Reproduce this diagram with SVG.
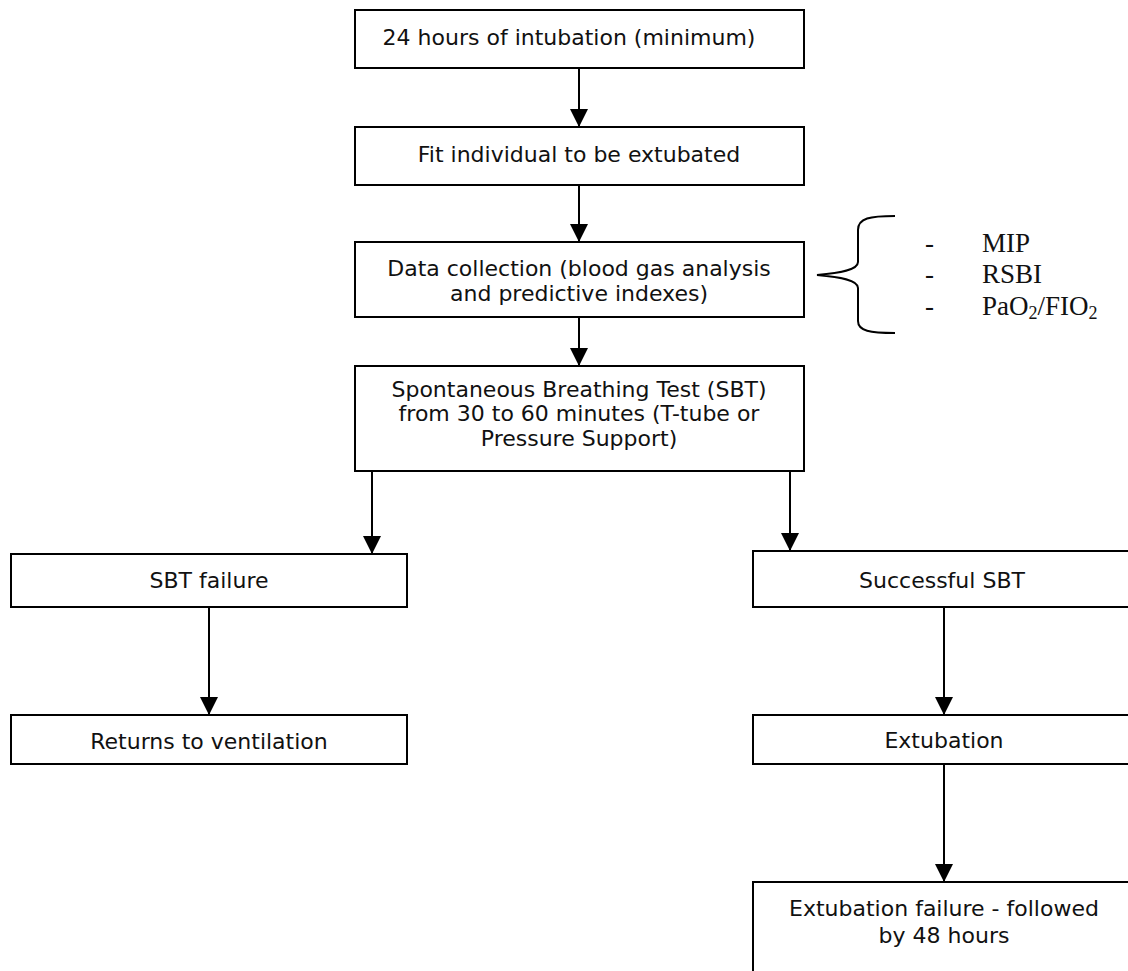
<svg xmlns="http://www.w3.org/2000/svg" width="1128" height="971" viewBox="0 0 1128 971">
<defs>
<marker id="ah" markerWidth="18" markerHeight="18" refX="18" refY="9" orient="auto" markerUnits="userSpaceOnUse">
<path d="M0,0 L18,9 L0,18 Z" fill="#000"/>
</marker>
<style>
.box{fill:#fff;stroke:#000;stroke-width:2}
.t{font-family:"DejaVu Sans","Verdana",sans-serif;font-size:22px;fill:#111;text-anchor:middle}
.s{font-family:"Liberation Serif","Times New Roman",serif;font-size:27px;fill:#111}
.c{stroke:#000;stroke-width:2;fill:none}
</style>
</defs>
<rect width="1128" height="971" fill="#fff"/>
<g id="n1"><rect class="box" x="355" y="10" width="449" height="58"/><text class="t" x="569" y="45">24 hours of intubation (minimum)</text></g>
<g id="n2"><rect class="box" x="355" y="127" width="449" height="58"/><text class="t" x="579" y="162">Fit individual to be extubated</text></g>
<g id="n3"><rect class="box" x="355" y="242" width="449" height="75"/><text class="t" x="579" y="276">Data collection (blood gas analysis</text><text class="t" x="579" y="301">and predictive indexes)</text></g>
<g id="n4"><rect class="box" x="355" y="366" width="449" height="105"/><text class="t" x="579" y="397">Spontaneous Breathing Test (SBT)</text><text class="t" x="579" y="421">from 30 to 60 minutes (T-tube or</text><text class="t" x="579" y="446">Pressure Support)</text></g>
<g id="n5"><rect class="box" x="11" y="554" width="396" height="53"/><text class="t" x="209" y="588">SBT failure</text></g>
<g id="n6"><rect class="box" x="753" y="551" width="390" height="56"/><text class="t" x="942" y="588">Successful SBT</text></g>
<g id="n7"><rect class="box" x="11" y="715" width="396" height="49"/><text class="t" x="209" y="749">Returns to ventilation</text></g>
<g id="n8"><rect class="box" x="753" y="715" width="390" height="49"/><text class="t" x="944" y="748">Extubation</text></g>
<g id="n9"><rect class="box" x="753" y="882" width="390" height="110"/><text class="t" x="944" y="916">Extubation failure - followed</text><text class="t" x="944" y="943">by 48 hours</text></g>
<g id="note">
<path class="c" d="M895,216 C870,216 858,218 858,230 L858,262 C858,270 840,273 817,275 C840,277 858,280 858,288 L858,321 C858,331 870,333 895,333"/>
<text class="s" x="925" y="252">-</text><text class="s" x="982" y="252">MIP</text>
<text class="s" x="925" y="283">-</text><text class="s" x="982" y="283">RSBI</text>
<text class="s" x="925" y="315">-</text><text class="s" x="982" y="315">PaO<tspan font-size="18" dy="4">2</tspan><tspan dy="-4">/FIO</tspan><tspan font-size="18" dy="4">2</tspan></text>
</g>
<g id="connectors">
<line class="c" x1="579" y1="68" x2="579" y2="127" marker-end="url(#ah)"/>
<line class="c" x1="579" y1="185" x2="579" y2="242" marker-end="url(#ah)"/>
<line class="c" x1="579" y1="317" x2="579" y2="366" marker-end="url(#ah)"/>
<line class="c" x1="372" y1="471" x2="372" y2="554" marker-end="url(#ah)"/>
<line class="c" x1="790" y1="471" x2="790" y2="551" marker-end="url(#ah)"/>
<line class="c" x1="209" y1="607" x2="209" y2="715" marker-end="url(#ah)"/>
<line class="c" x1="944" y1="607" x2="944" y2="715" marker-end="url(#ah)"/>
<line class="c" x1="944" y1="764" x2="944" y2="882" marker-end="url(#ah)"/>
</g>
</svg>
